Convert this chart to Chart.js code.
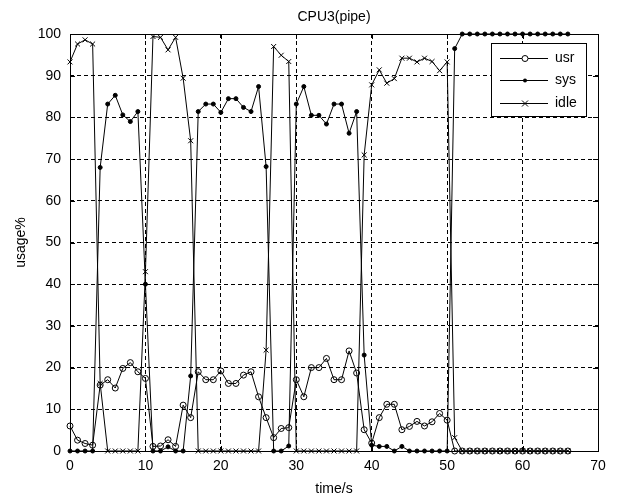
<!DOCTYPE html>
<html>
<head>
<meta charset="utf-8">
<title>CPU3(pipe)</title>
<script src="https://cdn.jsdelivr.net/npm/chart.js@4/dist/chart.umd.min.js"></script>
<style>
  html, body { margin: 0; padding: 0; background: #fff; }
  canvas { display: block; }
</style>
</head>
<body>
<canvas id="cpuChart" width="620" height="500"></canvas>
<script>
// sampling times (s)
const tiempos = Array.from({ length: 67 }, (_, i) => i);

// usage% per second
const usr = [
  6, 2.6, 1.8, 1.4, 15.8, 17.1, 15.1, 19.8, 21.2, 19,
  17.4, 1.1, 1.2, 2.7, 1.1, 11, 8, 19, 17.1, 17.1,
  19.2, 16.2, 16.2, 18.2, 19, 13, 8, 3.2, 5.4, 5.6,
  17.1, 13, 20, 20, 22.2, 17.1, 17.1, 24, 18.7, 5.1,
  1.9, 8, 11.2, 11.2, 5.1, 5.9, 7.1, 6, 7, 9,
  7.4, 0, 0, 0, 0, 0, 0, 0, 0, 0,
  0, 0, 0, 0, 0, 0, 0
];
const sys = [
  0, 0, 0, 0, 68, 83.2, 85.3, 80.6, 79, 81.4,
  40, 0, 0, 1, 0, 0, 18, 81.4, 83.2, 83.2,
  81.2, 84.5, 84.5, 82.4, 81.4, 87.4, 68.2, 0, 0, 1.2,
  83.2, 87.4, 80.5, 80.5, 78.4, 83.2, 83.2, 76.2, 81.4, 23,
  1.4, 1.1, 1.1, 0, 1.1, 0, 0, 0, 0, 0,
  0, 96.5, 100, 100, 100, 100, 100, 100, 100, 100,
  100, 100, 100, 100, 100, 100, 100
];
const idle = [
  93.3, 97.6, 98.6, 97.6, 16.2, 0, 0, 0, 0, 0,
  43, 99.4, 99.2, 96.2, 99.2, 89.4, 74.4, 0, 0, 0,
  0, 0, 0, 0, 0, 0, 24.2, 97, 94.9, 93.4,
  0, 0, 0, 0, 0, 0, 0, 0, 0, 71,
  87.8, 91.4, 88.2, 89.3, 94.2, 94.2, 93.3, 94.2, 93.4, 91.2,
  93.3, 3.2, 0, 0, 0, 0, 0, 0, 0, 0,
  0, 0, 0, 0, 0, 0, 0
];

const xTicks = [0, 10, 20, 30, 40, 50, 60, 70];
const yTicks = [0, 10, 20, 30, 40, 50, 60, 70, 80, 90, 100];

const FONT = "'Liberation Sans', Arial, sans-serif";

function puntos(vals) {
  return vals.map((v, i) => ({ x: tiempos[i], y: v }));
}

function serie(label, vals, estilo) {
  return Object.assign({
    label: label,
    data: puntos(vals),
    borderColor: "#000",
    borderWidth: 1,
    tension: 0,
    pointBorderColor: "#000",
    pointBorderWidth: 1,
    clip: 8
  }, estilo);
}

// marker drawn in the legend, same look as the points
function marca(ctx, tipo, x, y) {
  ctx.save();
  ctx.strokeStyle = "#000";
  ctx.fillStyle = "#000";
  ctx.lineWidth = 1;
  ctx.beginPath();
  if (tipo === "o") {
    ctx.arc(x, y, 3, 0, Math.PI * 2);
    ctx.fillStyle = "#fff";
    ctx.fill();
    ctx.stroke();
  } else if (tipo === ".") {
    ctx.arc(x, y, 2, 0, Math.PI * 2);
    ctx.fill();
  } else {
    ctx.moveTo(x - 3, y - 3); ctx.lineTo(x + 3, y + 3);
    ctx.moveTo(x + 3, y - 3); ctx.lineTo(x - 3, y + 3);
    ctx.stroke();
  }
  ctx.restore();
}

const marcoPlugin = {
  id: "marco",
  afterDatasetsDraw(chart) {
    const { ctx, chartArea: a, scales } = chart;
    ctx.save();
    ctx.strokeStyle = "#000";
    ctx.lineWidth = 1;
    // box around the plot
    ctx.strokeRect(Math.round(a.left) + 0.5, Math.round(a.top) + 0.5,
      Math.round(a.right - a.left), Math.round(a.bottom - a.top));
    // inward ticks
    const L = 5;
    ctx.beginPath();
    xTicks.forEach(v => {
      const px = Math.round(scales.x.getPixelForValue(v)) + 0.5;
      ctx.moveTo(px, a.bottom); ctx.lineTo(px, a.bottom - L);
      ctx.moveTo(px, a.top); ctx.lineTo(px, a.top + L);
    });
    yTicks.forEach(v => {
      const py = Math.round(scales.y.getPixelForValue(v)) + 0.5;
      ctx.moveTo(a.left, py); ctx.lineTo(a.left + L, py);
      ctx.moveTo(a.right, py); ctx.lineTo(a.right - L, py);
    });
    ctx.stroke();

    // legend
    const bx = 491, by = 43, bw = 95, bh = 73;
    ctx.fillStyle = "#fff";
    ctx.fillRect(bx, by, bw, bh);
    ctx.strokeRect(bx + 0.5, by + 0.5, bw, bh);
    const filas = [["usr", "o"], ["sys", "."], ["idle", "x"]];
    ctx.font = "14px " + FONT;
    ctx.textBaseline = "middle";
    ctx.textAlign = "left";
    filas.forEach((f, i) => {
      const y = Math.round(by + 15 + i * 22.3) + 0.5;
      ctx.beginPath();
      ctx.moveTo(500, y); ctx.lineTo(548, y);
      ctx.stroke();
      marca(ctx, f[1], 525, y);
      ctx.fillStyle = "#000";
      ctx.fillText(f[0], 555, y);
    });

    // titles
    ctx.fillStyle = "#000";
    ctx.textAlign = "center";
    ctx.font = "14px " + FONT;
    ctx.fillText("CPU3(pipe)", (a.left + a.right) / 2, 17);
    ctx.fillText("time/s", (a.left + a.right) / 2, 489);
    ctx.translate(21, (a.top + a.bottom) / 2);
    ctx.rotate(-Math.PI / 2);
    ctx.fillText("usage%", 0, 0);
    ctx.restore();
  }
};

const ctx = document.getElementById("cpuChart").getContext("2d");
const cpuChart = new Chart(ctx, {
  type: "line",
  data: {
    datasets: [
      serie("usr", usr, { pointStyle: "circle", pointRadius: 3, pointBackgroundColor: "rgba(0,0,0,0)" }),
      serie("sys", sys, { pointStyle: "circle", pointRadius: 2, pointBackgroundColor: "#000" }),
      serie("idle", idle, { pointStyle: "crossRot", pointRadius: 3.5, pointBackgroundColor: "#000" })
    ]
  },
  options: {
    responsive: false,
    animation: false,
    devicePixelRatio: 1,
    layout: { padding: { top: 34, right: 22, bottom: 0, left: 0 } },
    plugins: {
      legend: { display: false },
      tooltip: { enabled: false }
    },
    scales: {
      x: {
        type: "linear",
        min: 0,
        max: 70,
        afterFit(scale) { scale.height = 49; },
        afterBuildTicks(scale) { scale.ticks = xTicks.map(v => ({ value: v })); },
        ticks: { color: "#000", padding: 7, font: { family: FONT, size: 14 } },
        grid: { color: "#000", lineWidth: 1, drawTicks: false },
        border: { display: false, dash: [4, 3] }
      },
      y: {
        min: 0,
        max: 100,
        afterFit(scale) { scale.width = 70; },
        afterBuildTicks(scale) { scale.ticks = yTicks.map(v => ({ value: v })); },
        ticks: { color: "#000", padding: 9, font: { family: FONT, size: 14 } },
        grid: { color: "#000", lineWidth: 1, drawTicks: false },
        border: { display: false, dash: [4, 3] }
      }
    }
  },
  plugins: [marcoPlugin]
});
</script>
</body>
</html>
